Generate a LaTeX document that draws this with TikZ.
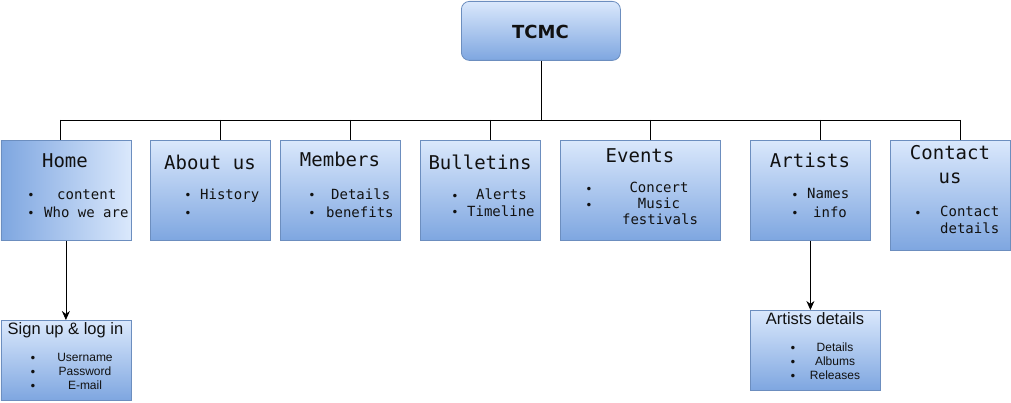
\documentclass[tikz,border=0pt]{standalone}
\usepackage{fontspec}
\setmainfont{DejaVu Sans}
\newfontfamily\monof{DejaVu Sans Mono}
\newfontfamily\arialf{Liberation Sans}
\usetikzlibrary{arrows.meta}
\definecolor{lightb}{HTML}{DAE8FC}
\definecolor{darkb}{HTML}{7EA6E0}
\definecolor{edgeb}{HTML}{6C8EBF}
\definecolor{txt}{HTML}{111111}
\begin{document}
\begin{tikzpicture}[x=1pt,y=-1pt,
  box/.style={draw=edgeb, line width=0.8pt, top color=lightb, bottom color=darkb, anchor=north west, inner sep=0pt},
  hbox/.style={draw=edgeb, line width=0.8pt, left color=darkb, right color=lightb, anchor=north west, inner sep=0pt},
  lbl/.style={inner sep=0pt, text=txt, text height=0.7em, text depth=0.2em, yshift=-3pt},
  head/.style={lbl, font=\monof\fontsize{19}{22}\selectfont, yshift=-2pt},
  item/.style={lbl, font=\monof\fontsize{14}{16}\selectfont},
  bul/.style={lbl, font=\monof\fontsize{12}{14}\selectfont},
  ahead/.style={lbl, font=\arialf\fontsize{16.5}{18}\selectfont, yshift=-1pt},
  aitem/.style={lbl, font=\arialf\fontsize{12}{14}\selectfont, yshift=1pt},
  conn/.style={draw=black, line width=0.8pt},
  arr/.style={conn, -{Stealth[length=9pt,width=8pt]}}
]
\useasboundingbox (0,0) rectangle (1011,403);

% root
\node[box, rounded corners=8pt, minimum width=159pt, minimum height=59pt] (tcmc) at (461,1) {};
\node[lbl, font=\bfseries\fontsize{18}{20}\selectfont, yshift=-2pt] (tcmct) at (540.5,31) {TCMC};

% level boxes
\node[hbox, minimum width=130pt, minimum height=100pt] (home) at (0.5,140) {};
\node[box, minimum width=120pt, minimum height=100pt] (about) at (150,140) {};
\node[box, minimum width=120pt, minimum height=100pt] (members) at (280,140) {};
\node[box, minimum width=120pt, minimum height=100pt] (bull) at (420,140) {};
\node[box, minimum width=160pt, minimum height=100pt] (events) at (560,140) {};
\node[box, minimum width=120pt, minimum height=100pt] (artists) at (750,140) {};
\node[box, minimum width=120pt, minimum height=110pt] (contact) at (890,140) {};
\node[box, minimum width=130pt, minimum height=80pt] (signup) at (0.5,320) {};
\node[box, minimum width=130pt, minimum height=80pt] (adet) at (750,310) {};

% bus
\coordinate (j1) at (60,120);
\coordinate (j2) at (220,120);
\coordinate (j3) at (350,120);
\coordinate (j4) at (490,120);
\coordinate (j5) at (650,120);
\coordinate (j6) at (820,120);
\coordinate (j7) at (960,120);
\draw[conn] (j1) -- (j7);
\draw[conn] (tcmc.south) -- (tcmc.south |- j1);
\draw[conn] (j1) -- (j1 |- home.north);
\draw[conn] (j2) -- (j2 |- about.north);
\draw[conn] (j3) -- (j3 |- members.north);
\draw[conn] (j4) -- (j4 |- bull.north);
\draw[conn] (j5) -- (j5 |- events.north);
\draw[conn] (j6) -- (j6 |- artists.north);
\draw[conn] (j7) -- (j7 |- contact.north);
\draw[arr] (home.south) -- (signup.north);
\draw[arr] (artists.south) -- (artists.south |- adet.north);

% Home
\node[head] (h1) at (65,160) {Home};
\node[bul] (h1b1) at (31,194) {•};
\node[bul] (h1b2) at (31,212) {•};
\node[item, anchor=west] (h1i1) at (57,194) {content};
\node[item, anchor=west] (h1i2) at (44,212) {Who we are};

% About us
\node[head] (h2) at (210,162) {About us};
\node[bul] (h2b1) at (188,194) {•};
\node[bul] (h2b2) at (188,212) {•};
\node[item, anchor=west] (h2i1) at (200,194) {History};

% Members
\node[head] (h3) at (340,159) {Members};
\node[bul] (h3b1) at (312,194) {•};
\node[bul] (h3b2) at (312,212) {•};
\node[item, anchor=west] (h3i1) at (331,194) {Details};
\node[item, anchor=west] (h3i2) at (326,212) {benefits};

% Bulletins
\node[head] (h4) at (480,162) {Bulletins};
\node[bul] (h4b1) at (455,195) {•};
\node[bul] (h4b2) at (455,211) {•};
\node[item, anchor=west] (h4i1) at (476,194) {Alerts};
\node[item, anchor=west] (h4i2) at (467,211) {Timeline};

% Events
\node[head] (h5) at (640,155) {Events};
\node[bul] (h5b1) at (589,188) {•};
\node[bul] (h5b2) at (589,204) {•};
\node[item] (h5i1) at (659,187) {Concert};
\node[item] (h5i2) at (659,203) {Music};
\node[item] (h5i3) at (660,219) {festivals};

% Artists
\node[head] (h6) at (810,160) {Artists};
\node[bul] (h6b1) at (795,194) {•};
\node[bul] (h6b2) at (795,212) {•};
\node[item, anchor=west] (h6i1) at (807,193) {Names};
\node[item, anchor=west] (h6i2) at (813,212) {info};

% Contact us
\node[head] (h7a) at (950,152) {Contact};
\node[head] (h7b) at (950,176) {us};
\node[bul] (h7b1) at (918,212) {•};
\node[item, anchor=west] (h7i1) at (940,211) {Contact};
\node[item, anchor=west] (h7i2) at (940,228) {details};

% Sign up
\node[ahead] (s1) at (65.5,328) {Sign up \& log in};
\node[bul] (s1b1) at (33,357) {•};
\node[bul] (s1b2) at (33,371) {•};
\node[bul] (s1b3) at (33,385) {•};
\node[aitem] (s1i1) at (85,357) {Username};
\node[aitem] (s1i2) at (85,371) {Password};
\node[aitem] (s1i3) at (85,385) {E-mail};

% Artists details
\node[ahead] (a1) at (815,318) {Artists details};
\node[bul] (a1b1) at (793,347) {•};
\node[bul] (a1b2) at (793,361) {•};
\node[bul] (a1b3) at (793,375) {•};
\node[aitem] (a1i1) at (835,347) {Details};
\node[aitem] (a1i2) at (835,361) {Albums};
\node[aitem] (a1i3) at (835,375) {Releases};
\end{tikzpicture}
\end{document}
